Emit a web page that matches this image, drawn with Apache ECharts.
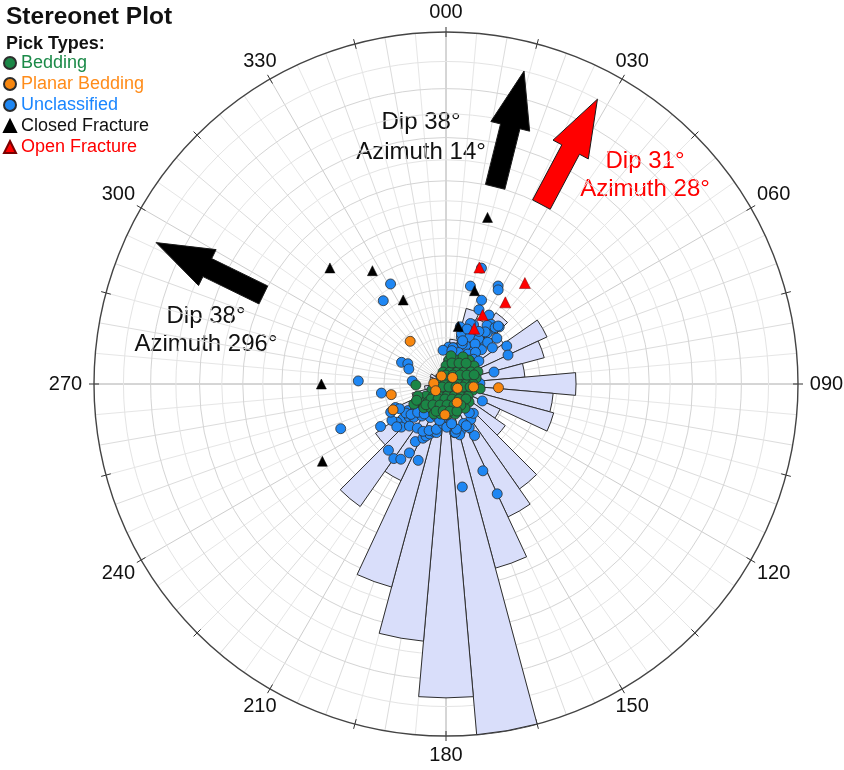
<!DOCTYPE html>
<html><head><meta charset="utf-8">
<script src="https://cdn.jsdelivr.net/npm/echarts@6/dist/echarts.min.js"></script>
<style>html,body{margin:0;padding:0;background:#fff}#c{width:844px;height:770px}</style>
</head><body><div id="c"></div>
<script>
// ---------------- DATA (azimuth in degrees, dip in degrees) ----------------
const legendNames = ['Bedding', 'Planar Bedding', 'Unclassified', 'Closed Fracture', 'Open Fracture'];

const bedding = [
  [7,7.9],[23,8.5],[35,9.6],[44,10.8],
  [0,5.9],[21,6.3],[38,7.4],[49,9],[57,10.8],
  [346,4],[18,4.1],[43,5.3],[56,7],[64,9],[69,11.1],
  [320,2.5],[18,2.1],[56,3.5],[69,5.6],[75,7.7],[79,10],
  [270,2.6],[270,0.3],[90,2],[90,4.2],[90,6.5],[90,8.8],
  [247,5],[229,3],[180,2],[131,3],[113,5],[106,7.1],[103,9],
  [239,7.6],[227,5.8],[207,4.4],[175,3.9],[146,4.7],[129,6.3],[119,8.2],
  [234,10],[225,8.3],[211,6.9],[193,6],[171,5.9],[151,6.7],[137,8.1],[128,9.5],
  [223,10.6],[212,9.2],[198,8.2],[182,7.8],[166,8],[152,8.9],[142,10],
  [202,10.5],[190,9.9],[176,9.8],[163,10.2],
  [268,9.8],[238,12.3],[247,9.9],[241,10.9],[10,9.3],[32,10.4],[98,11.2],
  [16,7.1],[32,8],[44,9.4],
  [0,2.9],[38,3.7],[57,5.4],[67,7.4],[72,9.6],
  [233,1.6],[135,1.4],[107,3.4],[100,5.6],[97,7.9],
  [225,6.9],[208,5.5],[184,4.9],[158,5.3],[139,6.5],[127,8.1],
  [224,9.4],[212,8],[196,7.1],[177,6.8],[159,7.3],[145,8.4],
  [200,9.4],[186,8.8],[172,8.9],[158,9.5]
];

const planarBedding = [
  [320,18],[259,18],[244,19],[94,17],[110,4],[96,9],[149,7],[273,4],[237,4],[330,3],[45,3],[182,10]
];

const unclassified = [
  [17,38],[14,32],[28,35],[29,34],[23,29],[24,26],[32,26],[37,24],[40,23],[43,25],[48,22],[58,23],[65,22],[76,16],[89,11],
  [25,21],[18,16],[25,16],[32,16],[40,18],[40,14],[46,16],[27,14],[19,10],[12,9],[4,12],[355,11],[12,12],[54,12],[45,13],
  [34,20],[27,19],[36,12],[28,10],[39,21],[35,23],
  [22,21],[23,18],[17,17],[22,14],[11,12],[22,11],[27,17],[36,18],[37,21],[32,20],[36,16],[43,14],[48,12],[55,13],
  [21,15],[41,24],[42,25],[14,19],[21,19],[45,19],[52,19],[10,11],
  [331,36],[323,33],[296,16],[298,14],[292,13],[275,11],[272,28],[262,21],[245,18],[247,36],[237,25],
  [221,28],[215,29],[211,28],[208,25],[200,26],[208,21],[203,19],[201,18],[198,17],[194,16],[191,16],
  [235,15],[230,13],[223,12],[213,11],[231,18],[228,16],[224,15],[217,13],[205,12],[196,11],[185,11],
  [232,20],[226,20],[221,18],[213,17],[206,17],[200,16],[192,15],[184,13],[174,13],[234,16],[229,15],
  [225,13],[216,12],[203,10],[190,12],[179,14],[170,16],[163,16],[236,21],[229,21],[243,20],[242,17],
  [115,13],[157,30],[171,33],[155,38],[151,19],[165,17],[169,16],[152,16],[145,14],[137,13],[141,12],
  [156,14],[154,15],[167,15],[172,13]
];

const closedFracture = [
  [14,52],[315,50],[327,42],[333,30],[270,39],[238,45],[17,31],[12,19]
];

const openFracture = [
  [16,38],[38,40],[36,32],[28,25],[27,20]
];

// Rose diagram: 10-degree bins centred on 0, 10, ... 350 (azimuth)
const roseBins = ['0','10','20','30','40','50','60','70','80','90','100','110','120','130','140','150','160','170',
                  '180','190','200','210','220','230','240','250','260','270','280','290','300','310','320','330','340','350'];
const roseCounts = [2.6,4.6,8,7.4,8.9,7.2,11.4,10.4,8.1,13.3,11,11.4,6.1,7.4,13.1,15,19.5,36,
                    32.1,26.4,21.5,10.9,15.3,8.8,5.1,3.6,2.2,1.5,1.2,1.7,1.8,1.4,1,1,1.2,1.8];

// Mean-direction arrows
const arrowAzimuth = [14, 28, 296];
const arrowDip = [38, 31, 38];

// Axis labels
const azimuthLabels = ['000','030','060','090','120','150','180','210','240','270','300','330'];
const azimuthLabelAngles = [0,30,60,90,120,150,180,210,240,270,300,330];
const dipCircles = [5,10,15,20,25,30,35,40,45,50,55,60,65,70,75,80,85];

// ---------------- CHART ----------------
const FONT = '"Liberation Sans", Arial, sans-serif';
const CENTER = [446, 384];
const RADIUS = 352;
const proj = d => Math.tan(d * Math.PI / 360);   // stereographic (equal-angle) projection, 0..1
const toPolar = arr => arr.map(p => [proj(p[1]), p[0]]);

const arrowColors = ['#000000', '#ff0000', '#000000'];
const arrowTextColors = ['#111111', '#ff0000', '#111111'];
const ARROW_TAIL_DIP = 60, ARROW_TIP_DIP = 85;

const radialColors = [];
for (let i = 0; i < 18; i++) {
  radialColors.push(i === 0 ? '#acacac' : (i % 6 === 0 ? '#cdcdcd' : (i % 2 === 0 ? '#dcdcdc' : '#e6e6e6')));
}

const chart = echarts.init(document.getElementById('c'), null, {renderer: 'canvas'});

const pointStyle = (color) => ({color: color, borderColor: '#2d2d2d', borderWidth: 0.8, opacity: 1});

const option = {
  animation: false,
  backgroundColor: '#ffffff',
  title: {
    text: 'Stereonet Plot', subtext: 'Pick Types:',
    left: 6, top: 5, padding: 0, itemGap: 5,
    textStyle: {fontSize: 24.5, fontWeight: 'bold', color: '#111', fontFamily: FONT},
    subtextStyle: {fontSize: 18, fontWeight: 'bold', color: '#111', fontFamily: FONT}
  },
  legend: {
    orient: 'vertical', left: 3, top: 54, padding: 0, itemGap: 3,
    itemWidth: 12, itemHeight: 12, selectedMode: false,
    textStyle: {fontSize: 18, fontFamily: FONT},
    data: [
      {name: legendNames[0], textStyle: {color: '#1b8a48'}},
      {name: legendNames[1], textStyle: {color: '#ff8c1a'}},
      {name: legendNames[2], textStyle: {color: '#1a86ff'}},
      {name: legendNames[3], textStyle: {color: '#111111'}},
      {name: legendNames[4], textStyle: {color: '#ff0000'}}
    ]
  },
  polar: [
    {center: CENTER, radius: RADIUS},
    {center: CENTER, radius: RADIUS},
    {center: CENTER, radius: RADIUS - 5}
  ],
  angleAxis: [
    {polarIndex: 0, type: 'value', min: 0, max: 360, interval: 5, startAngle: 90, clockwise: true,
     axisLine: {show: true, lineStyle: {color: '#444', width: 1.4}},
     axisTick: {show: false}, axisLabel: {show: false},
     splitLine: {show: true, lineStyle: {color: radialColors, width: 1}}},
    {polarIndex: 1, type: 'category', data: roseBins, startAngle: 95, clockwise: true,
     axisLine: {show: false}, axisTick: {show: false}, axisLabel: {show: false}, splitLine: {show: false}},
    {polarIndex: 2, type: 'value', min: 0, max: 360, interval: 15, startAngle: 90, clockwise: true,
     axisLine: {show: false},
     axisTick: {show: true, length: 10, lineStyle: {color: '#333', width: 1}},
     axisLabel: {show: false},
     splitLine: {show: false}}
  ],
  radiusAxis: [
    {polarIndex: 0, type: 'value', min: 0, max: 1, axisLine: {show: false}, axisTick: {show: false}, axisLabel: {show: false}, splitLine: {show: false}},
    {polarIndex: 1, type: 'value', min: 0, max: 36, axisLine: {show: false}, axisTick: {show: false}, axisLabel: {show: false}, splitLine: {show: false}},
    {polarIndex: 2, type: 'value', min: 0, max: 1, axisLine: {show: false}, axisTick: {show: false}, axisLabel: {show: false}, splitLine: {show: false}}
  ],
  graphic: [
    {type: 'text', x: 421, y: 137, style: {text: 'Dip ' + arrowDip[0] + '°\nAzimuth ' + arrowAzimuth[0] + '°', fill: arrowTextColors[0], fontSize: 24, fontFamily: FONT, align: 'center', verticalAlign: 'middle', lineHeight: 30}},
    {type: 'text', x: 645, y: 175, style: {text: 'Dip ' + arrowDip[1] + '°\nAzimuth ' + arrowAzimuth[1] + '°', fill: arrowTextColors[1], fontSize: 24, fontFamily: FONT, align: 'center', verticalAlign: 'middle', lineHeight: 28}},
    {type: 'text', x: 206, y: 330, style: {text: 'Dip ' + arrowDip[2] + '°\nAzimuth ' + arrowAzimuth[2] + '°', fill: arrowTextColors[2], fontSize: 24, fontFamily: FONT, align: 'center', verticalAlign: 'middle', lineHeight: 28}}
  ],
  series: [
    {
      type: 'custom', coordinateSystem: 'polar', polarIndex: 0, silent: true, z: 1,
      data: dipCircles.map(d => [proj(d), 0, d]),
      renderItem: (params, api) => {
        const c = api.coord([0, 0]);
        const p = api.coord([api.value(0), 0]);
        const r = Math.hypot(p[0] - c[0], p[1] - c[1]);
        return {type: 'circle', shape: {cx: c[0], cy: c[1], r: r},
                style: {fill: 'none', stroke: api.value(2) % 10 === 0 ? '#d4d4d4' : '#e4e4e4', lineWidth: 1}};
      }
    },
    {
      type: 'custom', coordinateSystem: 'polar', polarIndex: 0, silent: true, z: 9,
      data: azimuthLabelAngles.map((a, i) => [1, a, i]),
      renderItem: (params, api) => {
        const az = api.value(1);
        const c = api.coord([0, 0]);
        const p = api.coord([1, az]);
        const R = Math.hypot(p[0] - c[0], p[1] - c[1]);
        const ux = (p[0] - c[0]) / R, uy = (p[1] - c[1]) / R;
        const ext = Math.max(Math.abs(ux) * 16.5, Math.abs(uy) * 7.5);
        const d = R + 12 + ext;
        return {type: 'text', x: c[0] + ux * d, y: c[1] + uy * d,
                style: {text: azimuthLabels[api.value(2)], fill: '#111', fontSize: 20, fontFamily: FONT,
                        align: 'center', verticalAlign: 'middle'}};
      }
    },
    {
      name: 'Rose', type: 'bar', coordinateSystem: 'polar', polarIndex: 1, z: 2,
      barCategoryGap: '0%', silent: true,
      data: roseCounts,
      itemStyle: {color: '#d9defa', borderColor: '#2e2e2e', borderWidth: 1, opacity: 1}
    },
    {name: legendNames[2], type: 'scatter', coordinateSystem: 'polar', polarIndex: 0, z: 3,
     symbol: 'circle', symbolSize: 10, data: toPolar(unclassified), itemStyle: pointStyle('#1f87f3')},
    {name: legendNames[0], type: 'scatter', coordinateSystem: 'polar', polarIndex: 0, z: 4,
     symbol: 'circle', symbolSize: 10, data: toPolar(bedding), itemStyle: pointStyle('#1b8646')},
    {name: legendNames[1], type: 'scatter', coordinateSystem: 'polar', polarIndex: 0, z: 5,
     symbol: 'circle', symbolSize: 10, data: toPolar(planarBedding), itemStyle: pointStyle('#f8870f')},
    {name: legendNames[3], type: 'scatter', coordinateSystem: 'polar', polarIndex: 0, z: 6,
     symbol: 'triangle', symbolSize: 10, data: toPolar(closedFracture), itemStyle: {color: '#000', borderColor: '#000', borderWidth: 0.5, opacity: 1}},
    {name: legendNames[4], type: 'scatter', coordinateSystem: 'polar', polarIndex: 0, z: 6,
     symbol: 'triangle', symbolSize: 11, data: toPolar(openFracture), itemStyle: {color: '#ff0000', borderColor: '#7a0000', borderWidth: 0.5, opacity: 1}},
    {
      type: 'custom', coordinateSystem: 'polar', polarIndex: 0, silent: true, z: 8,
      data: arrowAzimuth.map((az, i) => [proj(ARROW_TIP_DIP), az, i]),
      renderItem: (params, api) => {
        const az = api.value(1);
        const idx = api.value(2);
        const a = api.coord([proj(ARROW_TAIL_DIP), az]);
        const b = api.coord([proj(ARROW_TIP_DIP), az]);
        const dx = b[0] - a[0], dy = b[1] - a[1];
        const L = Math.hypot(dx, dy);
        const ux = dx / L, uy = dy / L, px = -uy, py = ux;
        const headLen = 57, headHalf = 20, shaftHalf = 10;
        const hb = [b[0] - ux * headLen, b[1] - uy * headLen];
        const pts = [
          [a[0] + px * shaftHalf, a[1] + py * shaftHalf],
          [hb[0] + px * shaftHalf, hb[1] + py * shaftHalf],
          [hb[0] + px * headHalf, hb[1] + py * headHalf],
          [b[0], b[1]],
          [hb[0] - px * headHalf, hb[1] - py * headHalf],
          [hb[0] - px * shaftHalf, hb[1] - py * shaftHalf],
          [a[0] - px * shaftHalf, a[1] - py * shaftHalf]
        ];
        return {type: 'polygon', shape: {points: pts},
                style: {fill: arrowColors[idx], stroke: '#1a1a1a', lineWidth: 1}};
      }
    }
  ]
};
chart.setOption(option);
</script>
</body></html>
